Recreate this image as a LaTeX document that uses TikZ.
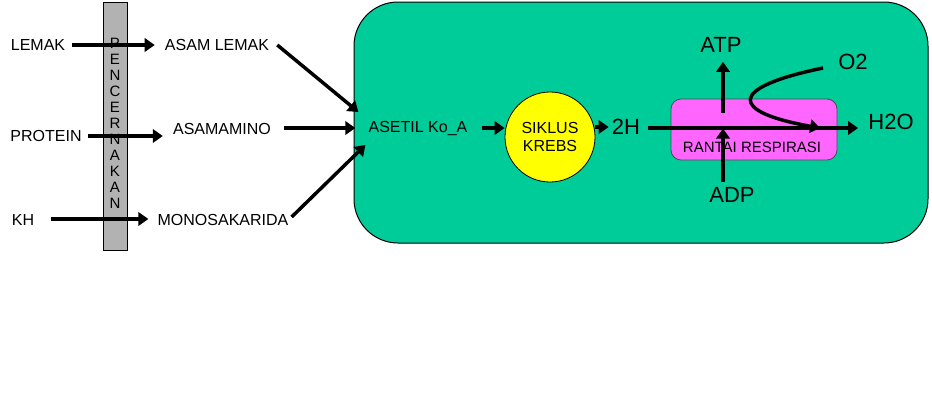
\documentclass[tikz,border=0pt]{standalone}
\usepackage{fontspec}
\setmainfont{Liberation Sans}
\usetikzlibrary{arrows.meta,calc}
\definecolor{cellgreen}{HTML}{00CC99}
\definecolor{bargrey}{HTML}{B2B2B2}
\definecolor{chainpink}{HTML}{FF66FF}
\definecolor{krebsyellow}{HTML}{FFFF00}
\begin{document}
\begin{tikzpicture}[x=0.75pt,y=-0.75pt,
  lbl/.style={inner sep=0pt, font=\fontsize{12}{14}\selectfont},
  big/.style={inner sep=0pt, font=\fontsize{16.5}{19}\selectfont},
  arr/.style={line width=2.6pt, -{Triangle[length=7.5pt,width=10pt]}},
]
\fill[white] (0,0) rectangle (932,400);
\useasboundingbox (0,0) rectangle (932,400);

% digestion bar
\node[draw=black, line width=0.6pt, fill=bargrey, minimum width=18pt, minimum height=186pt, inner sep=0pt] (bar) at (115,126) {};
\node[inner sep=0pt, align=center, font=\fontsize{11.25}{12}\selectfont] (pencernakan) at (115,123) {P\\E\\N\\C\\E\\R\\N\\A\\K\\A\\N};

% cell
\node[draw=black, line width=0.75pt, fill=cellgreen, rounded corners=33pt, minimum width=430.5pt, minimum height=180.75pt, inner sep=0pt] (cell) at (641,122.5) {};
\node[draw=black!70, line width=0.6pt, fill=chainpink, rounded corners=7.5pt, minimum width=124.5pt, minimum height=45.75pt, inner sep=0pt] (chain) at (754,129.5) {};
\node[draw=black, line width=0.6pt, fill=krebsyellow, circle, minimum size=67.5pt, inner sep=0pt, align=center, font=\fontsize{12}{14}\selectfont] (krebs) at (550,137) {SIKLUS\\KREBS};

% labels
\node[lbl] (lemak) at (38,45) {LEMAK};
\node[lbl] (asamlemak) at (217,45) {ASAM LEMAK};
\node[lbl] (protein) at (46,136) {PROTEIN};
\node[lbl] (asamamino) at (222,129) {ASAMAMINO};
\node[lbl] (kh) at (23,220) {KH};
\node[lbl] (mono) at (223,220) {MONOSAKARIDA};
\node[lbl] (asetil) at (418,129) {ASETIL Ko\_A};
\node[big] (h2) at (626,127) {2H};
\node[big] (atp) at (721,45) {ATP};
\node[big] (adp) at (732,195) {ADP};
\node[big] (o2) at (853,62) {O2};
\node[big] (h2o) at (891,122) {H2O};
\node[inner sep=0pt, font=\fontsize{11.25}{13}\selectfont] (rantai) at (752,147) {RANTAI RESPIRASI};

% digestion arrows
\draw[arr] ($(lemak.east)+(7,0)$) -- ($(asamlemak.west)+(-10,0)$);
\draw[arr] ($(protein.east)+(6,0)$) -- ($(protein.east -| asamamino.west)+(-10,0)$);
\draw[arr] ($(kh.east)+(17,-1)$) -- ($(kh.east -| mono.west)+(-9,-1)$);

% into acetyl CoA
\draw[arr] ($(asamlemak.east)+(8,0)$) -- ($(asetil.west)+(-10,-17)$);
\draw[arr] ($(asamamino.east)+(13,-1)$) -- ($(asetil.west)+(-13,-1)$);
\draw[arr] ($(mono.east)+(3,-3)$) -- ($(asetil.west)+(-3,16)$);

% cycle
\draw[arr] ($(asetil.east)+(14,-1)$) -- ($(asetil.east -| krebs.west)+(0,-1)$);
\draw[arr] (krebs.east |- h2.west) -- ($(h2.west)+(-3,0)$);
\draw[arr] ($(h2.east)+(8,1)$) -- ($(h2.east -| h2o.west)+(-10,1)$);

% ATP / ADP
\coordinate (atptip) at ($(atp.south)+(2,9)$);
\draw[arr] ($(atptip |- chain.center)+(0,-17)$) -- (atptip);
\coordinate (adptail) at ($(adp.north)+(-9,-5)$);
\draw[arr] (adptail) -- ($(adptail |- chain.center)+(0,-1)$);

% oxygen
\draw[arr] ($(o2.west)+(-15,6)$) .. controls +(-97,20) and +(-90,-16) .. ($(h2o.west)+(-48,6)$);
\end{tikzpicture}
\end{document}
